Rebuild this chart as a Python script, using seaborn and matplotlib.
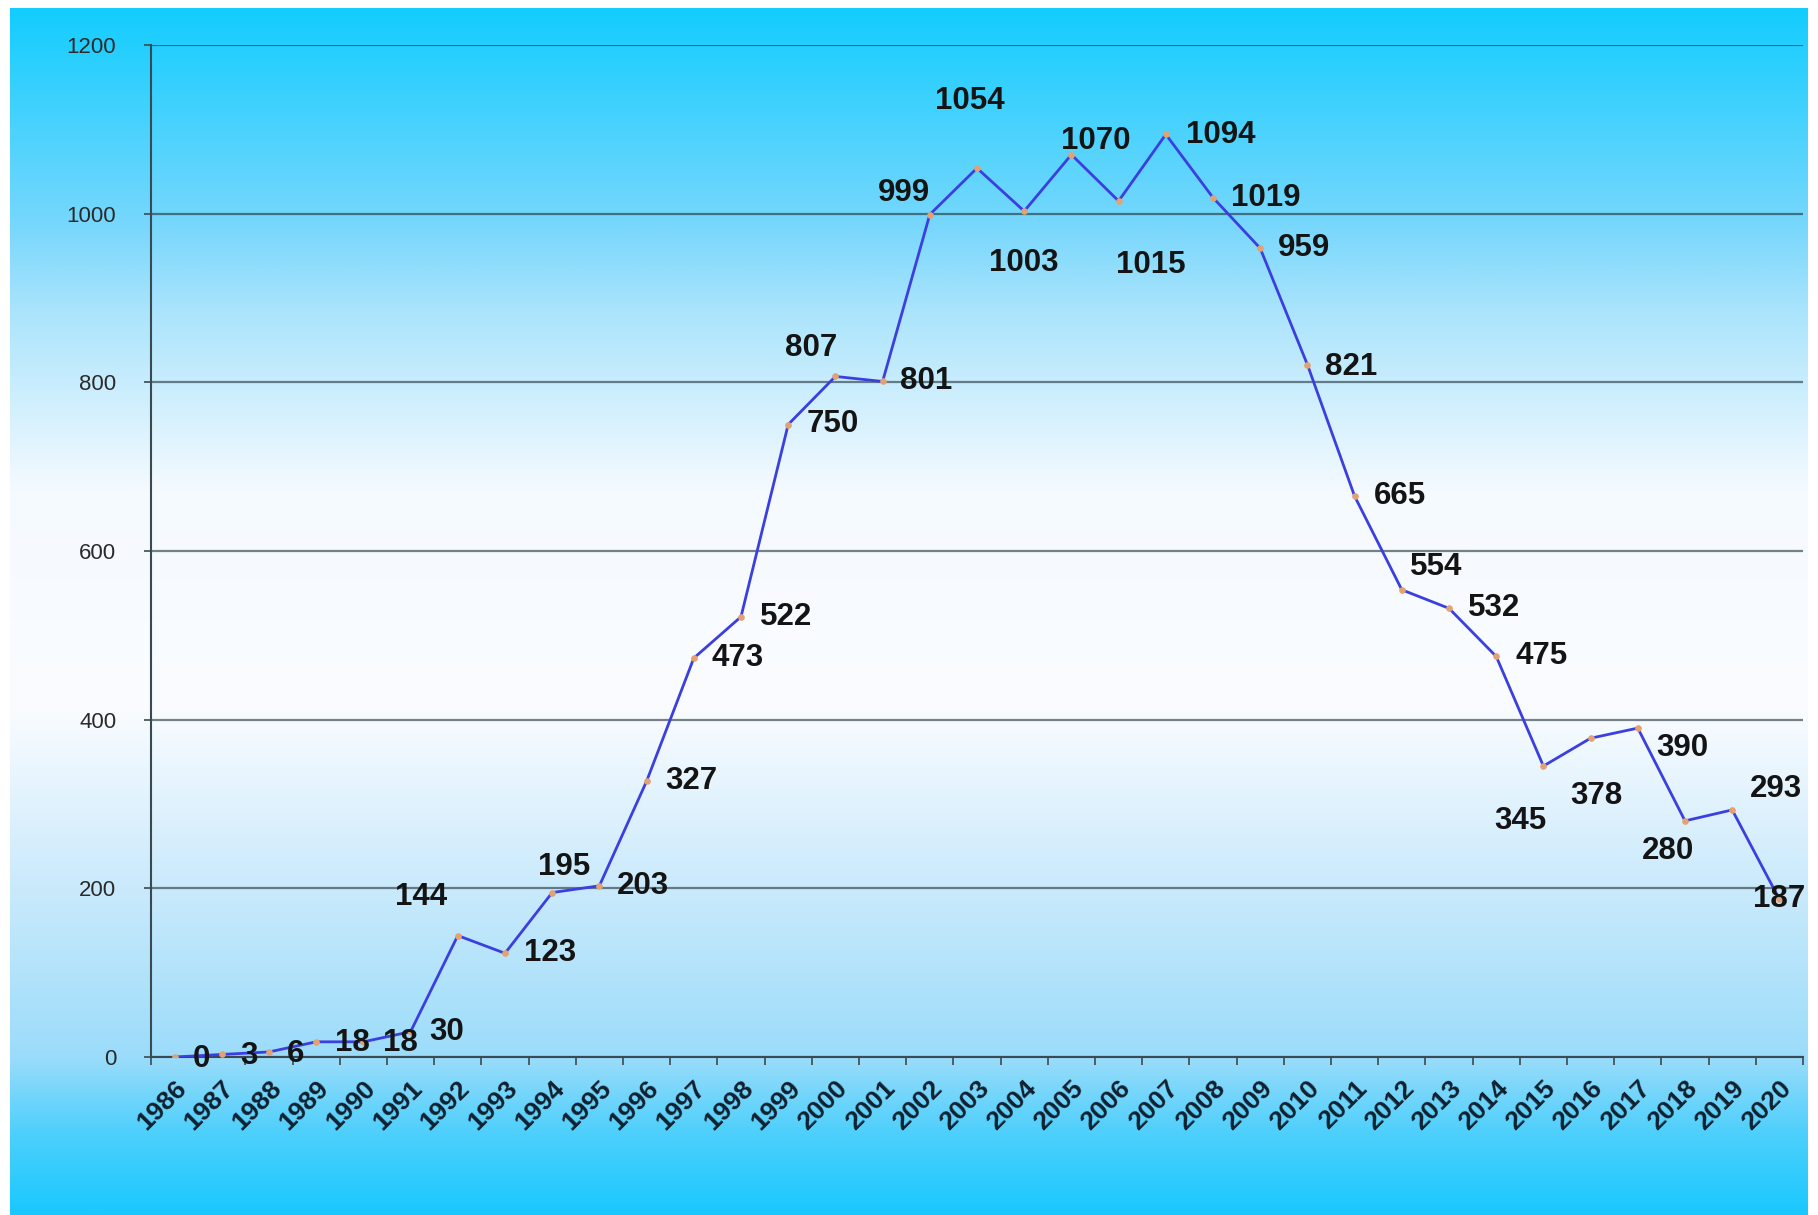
import numpy as np
import matplotlib
matplotlib.use('Agg')
import matplotlib.pyplot as plt
import matplotlib.transforms as mtransforms
from matplotlib.ticker import FixedLocator
import seaborn as sns

# data
years = list(range(1986, 2021))
counts = [0, 3, 6, 18, 18, 30, 144, 123, 195, 203, 327, 473, 522, 750, 807,
          801, 999, 1054, 1003, 1070, 1015, 1094, 1019, 959, 821, 665, 554,
          532, 475, 345, 378, 390, 280, 293, 187]
y_ticks = [0, 200, 400, 600, 800, 1000, 1200]

# where each value label sits relative to its point (pixels, right / up)
label_offsets = [(27, -2), (27, -2), (27, -2), (36, -1), (37, -1), (36, 0),
                 (-37, 39), (45, 0), (12, 26), (44, 0), (45, 0), (44, 0),
                 (45, 0), (45, 0), (-24, 28), (44, 0), (-26, 22), (-7, 67),
                 (0, -52), (24, 14), (32, -64), (55, -1), (53, 0), (44, 0),
                 (44, -2), (45, 0), (34, 23), (45, 0), (45, 0), (-23, -55),
                 (6, -58), (45, -20), (-17, -30), (44, 21), (0, 0)]

sns.set_style('white')
plt.rcParams['font.family'] = ['Liberation Sans', 'DejaVu Sans']

W, H = 1818, 1215
fig = plt.figure(figsize=(W / 100, H / 100), dpi=100, facecolor='white')

#background gradient panel (cyan -> white -> cyan)
bg = fig.add_axes([10 / W, 0, 1798 / W, 1207 / H], zorder=-10)
stops = [0.0, 0.18, 0.25, 0.40, 0.58, 0.72, 0.87, 0.93, 1.0]
cols = np.array([(18, 205, 255), (120, 215, 252), (170, 228, 252),
                 (245, 250, 255), (250, 252, 255), (205, 235, 252),
                 (155, 220, 250), (80, 208, 252), (25, 200, 255)]) / 255.0
t = np.linspace(0, 1, 600)
grad = np.stack([np.interp(t, stops, cols[:, k]) for k in range(3)], axis=1)
bg.imshow(grad[:, None, :], aspect='auto', extent=[0, 1, 0, 1])
bg.axis('off')

ax = fig.add_axes([151 / W, 158 / H, 1652 / W, 1012 / H])
ax.set_facecolor('none')

sns.lineplot(x=years, y=counts, ax=ax, color='#3B3FE0', linewidth=2.0,
             marker='o', markersize=4, markerfacecolor='#E3A274',
             markeredgecolor='#E3A274', zorder=3)

for yr, v, (dx, dy) in zip(years, counts, label_offsets):
    ax.annotate(str(v), (yr, v), xytext=(dx, dy), textcoords='offset pixels',
                ha='center', va='center', fontsize=22.5, fontweight='bold',
                color='#141414', zorder=4)

ax.set_xlim(years[0] - 0.5, years[-1] + 0.5)
ax.set_ylim(0, 1200)
ax.set_yticks(y_ticks)
ax.set_yticklabels([str(v) for v in y_ticks], fontsize=16, color='#2a2a2a')
ax.set_xticks(years)
ax.set_xticklabels([str(y) for y in years], fontsize=19, fontweight='bold',
                   color='#102030', rotation=45, ha='right', va='top',
                   rotation_mode='anchor')
shift = mtransforms.ScaledTranslation(10 / 100, 0, fig.dpi_scale_trans)
for lab in ax.get_xticklabels():
    lab.set_transform(lab.get_transform() + shift)

ax.xaxis.set_minor_locator(FixedLocator(np.arange(years[0] - 0.5, years[-1] + 1)))
ax.tick_params(axis='x', which='major', length=0, pad=14)
ax.tick_params(axis='x', which='minor', length=6, width=1.2, color='#3a4a52',
               direction='out', bottom=True)
ax.tick_params(axis='y', length=5, width=1.2, color='#3a4a52', direction='out',
               left=True, pad=20)

ax.yaxis.grid(True, color='#203038', alpha=0.6, linewidth=1.6)
ax.xaxis.grid(False)
for side in ['top', 'right']:
    ax.spines[side].set_visible(False)
for side in ['left', 'bottom']:
    ax.spines[side].set_color('#3a4a52')
    ax.spines[side].set_linewidth(1.5)

plt.savefig('out.png', dpi=100, facecolor='white')
